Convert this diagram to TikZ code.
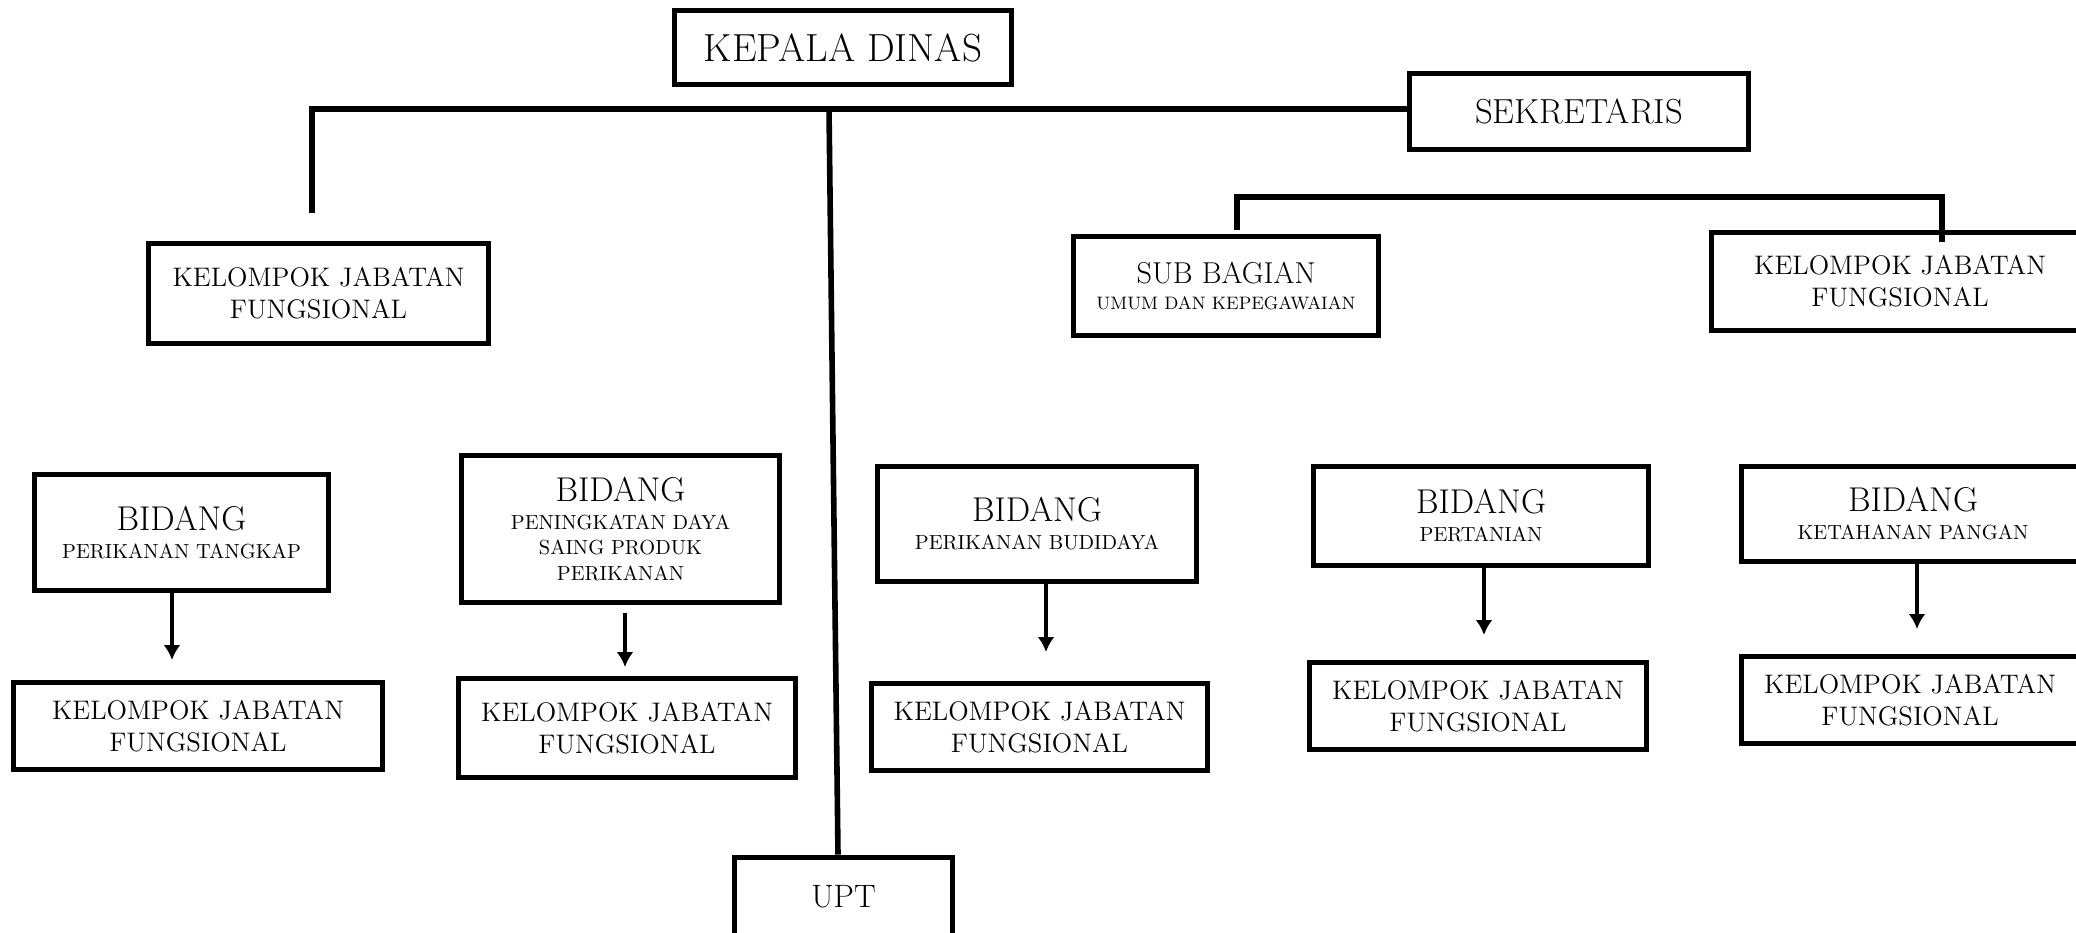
\documentclass[tikz,border=0pt]{standalone}
\usepackage{amsmath}
\usepackage{amssymb}
\usepackage{xcolor}
\usepackage{tikz}
\usetikzlibrary{arrows.meta}

\begin{document}
\begin{tikzpicture}[x=0.5pt,y=0.5pt,yscale=-1,xscale=1,
  kotak/.style={draw, line width=2.8pt, align=center, inner sep=0pt},
  kjf/.style={kotak, font=\fontsize{13.4}{16}\selectfont},
  garis/.style={line width=2.8pt},
  panah/.style={line width=2pt, -{Latex[length=7.5pt,width=8.5pt]}}]
\useasboundingbox (0,0) rectangle (2076,932);

%Shape: Rectangle [top]
\node[kotak, minimum width=168.5pt, minimum height=37pt, font=\fontsize{19.6}{23}\selectfont] (kadis) at (843,47.5) {KEPALA DINAS};
\node[kotak, minimum width=169.5pt, minimum height=38pt, font=\fontsize{17.4}{21}\selectfont] (sekre) at (1579,111.5) {SEKRETARIS};
\node[kjf, minimum width=170pt, minimum height=50pt] (kjfA) at (318.5,293.5) {KELOMPOK JABATAN\\FUNGSIONAL};
\node[kotak, minimum width=152.5pt, minimum height=49.5pt] (subbag) at (1226,286) {\fontsize{15.1}{18}\selectfont SUB BAGIAN\\[1pt]\fontsize{9}{11}\selectfont UMUM DAN KEPEGAWAIAN};
\node[kjf, minimum width=188.5pt, minimum height=49pt] (kjfB) at (1900,281.5) {KELOMPOK JABATAN\\FUNGSIONAL};

%Shape: Rectangle [bidang]
\node[kotak, minimum width=147pt, minimum height=58pt] (bidA) at (181.5,532.5) {\fontsize{17.2}{20}\selectfont BIDANG\\[2pt]\fontsize{10.2}{13}\selectfont PERIKANAN TANGKAP};
\node[kotak, minimum width=159pt, minimum height=73.5pt] (bidB) at (620.5,529) {\fontsize{17.2}{20}\selectfont BIDANG\\[2pt]\fontsize{10.2}{13}\selectfont PENINGKATAN DAYA\\[0.7pt]\fontsize{10.2}{13}\selectfont SAING PRODUK\\[0.7pt]\fontsize{10.2}{13}\selectfont PERIKANAN};
\node[kotak, minimum width=159.5pt, minimum height=57.5pt] (bidC) at (1037,524) {\fontsize{17.2}{20}\selectfont BIDANG\\[2pt]\fontsize{10.2}{13}\selectfont PERIKANAN BUDIDAYA};
\node[kotak, minimum width=167.5pt, minimum height=49.5pt] (bidD) at (1481,516) {\fontsize{17.2}{20}\selectfont BIDANG\\[2pt]\fontsize{10.2}{13}\selectfont PERTANIAN};
\node[kotak, minimum width=171.5pt, minimum height=47.5pt] (bidE) at (1913,514) {\fontsize{17.2}{20}\selectfont BIDANG\\[2pt]\fontsize{10.2}{13}\selectfont KETAHANAN PANGAN};

%Shape: Rectangle [kelompok jabatan fungsional]
\node[kjf, minimum width=184.5pt, minimum height=43.5pt] (kjf1) at (198,726) {KELOMPOK JABATAN\\FUNGSIONAL};
\node[kjf, minimum width=168.5pt, minimum height=49.5pt] (kjf2) at (627,728) {KELOMPOK JABATAN\\FUNGSIONAL};
\node[kjf, minimum width=168pt, minimum height=43.5pt] (kjf3) at (1039.5,727) {KELOMPOK JABATAN\\FUNGSIONAL};
\node[kjf, minimum width=168.5pt, minimum height=43.5pt] (kjf4) at (1478,706) {KELOMPOK JABATAN\\FUNGSIONAL};
\node[kjf, minimum width=168.5pt, minimum height=43.5pt] (kjf5) at (1910,700) {KELOMPOK JABATAN\\FUNGSIONAL};
\node[kotak, minimum width=109pt, minimum height=39.5pt, font=\fontsize{16.2}{19}\selectfont] (upt) at (843.5,897) {UPT};

%Straight Lines [kepala dinas]
\coordinate (barL) at (312,109);
\coordinate (barK) at (829,109);
\coordinate (dropA) at (312,213);
\draw[garis] (dropA) -- (barL) -- (sekre.west |- barL);
\draw[garis] (barK) -- ([xshift=-2.75pt]upt.north);

%Straight Lines [sekretaris]
\coordinate (sbL) at (1237,197);
\coordinate (sbR) at (1942,197);
\draw[garis] (sbL |- subbag.north) ++(0,-4) -- (sbL) -- (sbR) -- (sbR |- kjfB.north) -- ++(0,12);

%Straight Lines [panah]
\coordinate (tipA) at (172,660);
\coordinate (tipB) at (625,667);
\coordinate (tipC) at (1046,652);
\coordinate (tipD) at (1484,635);
\coordinate (tipE) at (1917,629);
\draw[panah] (bidA.south -| tipA) -- (tipA);
\draw[panah] ([yshift=4pt]bidB.south -| tipB) -- (tipB);
\draw[panah] (bidC.south -| tipC) -- (tipC);
\draw[panah] (bidD.south -| tipD) -- (tipD);
\draw[panah] (bidE.south -| tipE) -- (tipE);
\end{tikzpicture}
\end{document}
